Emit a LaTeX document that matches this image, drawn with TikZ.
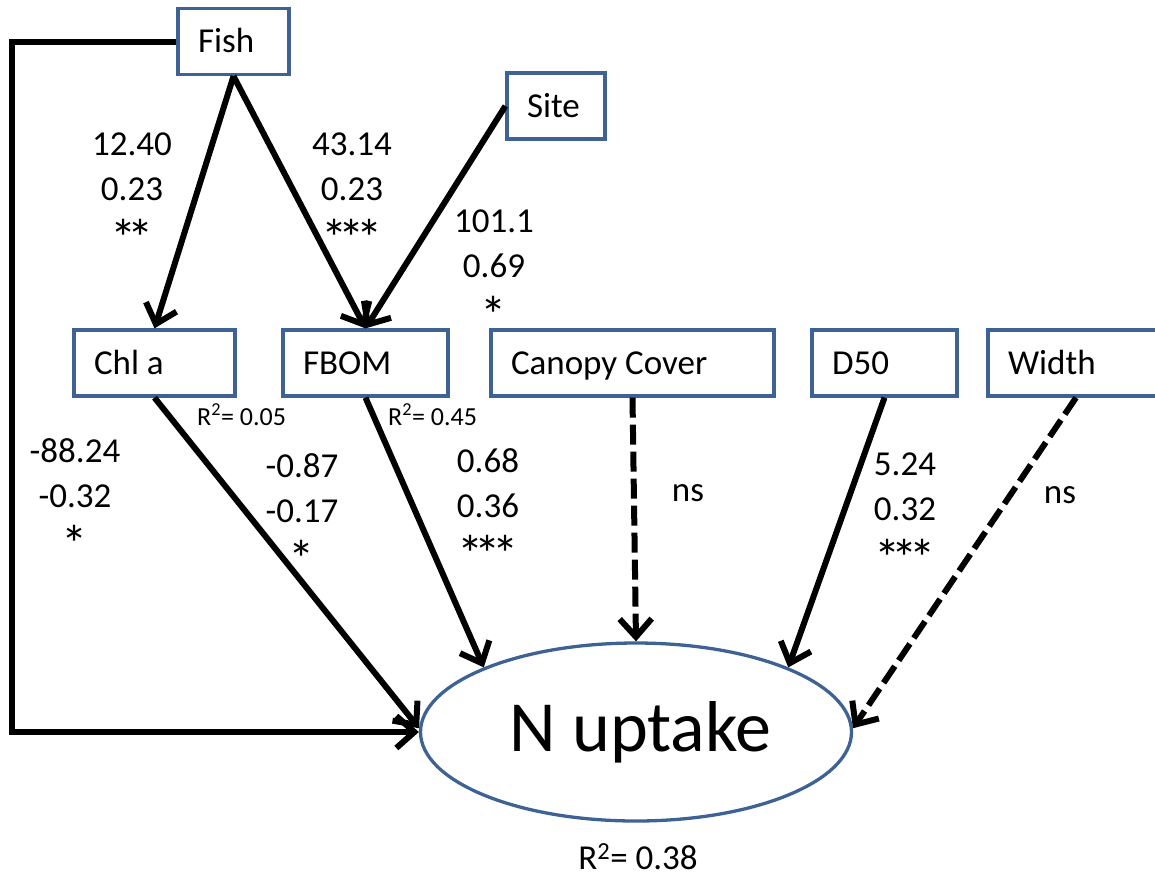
\documentclass[tikz,border=0pt]{standalone}
\usepackage{fontspec}
\setmainfont{Carlito}
\usetikzlibrary{arrows.meta,shapes.geometric}
\definecolor{boxblue}{RGB}{62,98,148}
% significance star: keeps the font's advance width, enlarges the glyph
\newcommand{\sigstar}{\makebox[0.498em]{\raisebox{-0.3em}{\scalebox{1.5}{*}}}}
\begin{document}
\begin{tikzpicture}[x=1pt,y=-1pt,
  varbox/.style={draw=boxblue, line width=3.3pt, fill=white, align=flush left,
    inner xsep=20pt, inner ysep=0pt, minimum height=66pt,
    text height=31pt, text depth=9pt, font=\fontsize{35}{42}\selectfont},
  link/.style={line width=6pt, -{Straight Barb[length=18pt,width=32pt]}},
  nslink/.style={link, dash pattern=on 20pt off 7pt},
  coef/.style={align=center, anchor=north, inner sep=0pt, font=\fontsize{35}{45}\selectfont},
  plain/.style={inner sep=0pt, font=\fontsize{35}{42}\selectfont},
  rsq/.style={inner sep=0pt, anchor=base west, font=\fontsize{26}{30}\selectfont}]
\useasboundingbox (0,0) rectangle (1155,876);

% variables
\node[varbox, text width=71pt]  (fish)   at (233.5,41.5) {Fish};
\node[varbox, text width=58pt]  (site)   at (556,106)    {Site};
\node[varbox, text width=121pt] (chla)   at (154.5,363)  {Chl a};
\node[varbox, text width=125pt] (fbom)   at (365.5,363)  {FBOM};
\node[varbox, text width=243pt] (canopy) at (632.5,363)  {Canopy Cover};
\node[varbox, text width=105pt] (d50)    at (884.5,363)  {D50};
\node[varbox, text width=136pt] (width)  at (1076,363)   {Width};

% response
\node[ellipse, draw=boxblue, line width=3.3pt, minimum width=431pt, minimum height=178pt,
  inner sep=0pt, font=\fontsize{72}{80}\selectfont] (nup) at (636,732) {\hspace*{9pt}N uptake};

% paths
\coordinate (rail) at (12,400);
\draw[link] (fish.south) -- (chla.north);
\draw[link] (fish.south) -- (fbom.north);
\draw[link] (site.west) -- (fbom.north);
\draw[link] (fish.west) -| (rail) |- (nup.west);
\draw[link] (chla.south) -- (nup.179);
\draw[link] (fbom.south) -- (nup.157);
\draw[nslink] (canopy.south) -- (nup.north);
\draw[link] (d50.south) -- (nup.23);
\draw[nslink] (width.south) -- (nup.1);

% coefficients
\node[coef] (cfishchl)  at (132,133) {12.40\\0.23\\\sigstar\sigstar};
\node[coef] (cfishfbom) at (352,133) {43.14\\0.23\\\sigstar\sigstar\sigstar};
\node[coef] (csite)     at (494,210) {101.1\\0.69\\\sigstar};
\node[coef] (cfishn)    at (75,438)  {-88.24\\-0.32\\\sigstar};
\node[coef] (cchl)      at (302,453) {-0.87\\-0.17\\\sigstar};
\node[coef] (cfbom)     at (488,448) {0.68\\0.36\\\sigstar\sigstar\sigstar};
\node[coef] (cd50)      at (905,453) {5.24\\0.32\\\sigstar\sigstar\sigstar};
\node[plain] (nscanopy) at (688,493) {ns};
\node[plain] (nswidth)  at (1060,495) {ns};

% explained variance
\node[rsq] (r2chl)  at (197,425) {R\textsuperscript{2}= 0.05};
\node[rsq] (r2fbom) at (388,425) {R\textsuperscript{2}= 0.45};
\node[plain, anchor=base] (r2nup) at (638,869) {R\textsuperscript{2}= 0.38};
\end{tikzpicture}
\end{document}
